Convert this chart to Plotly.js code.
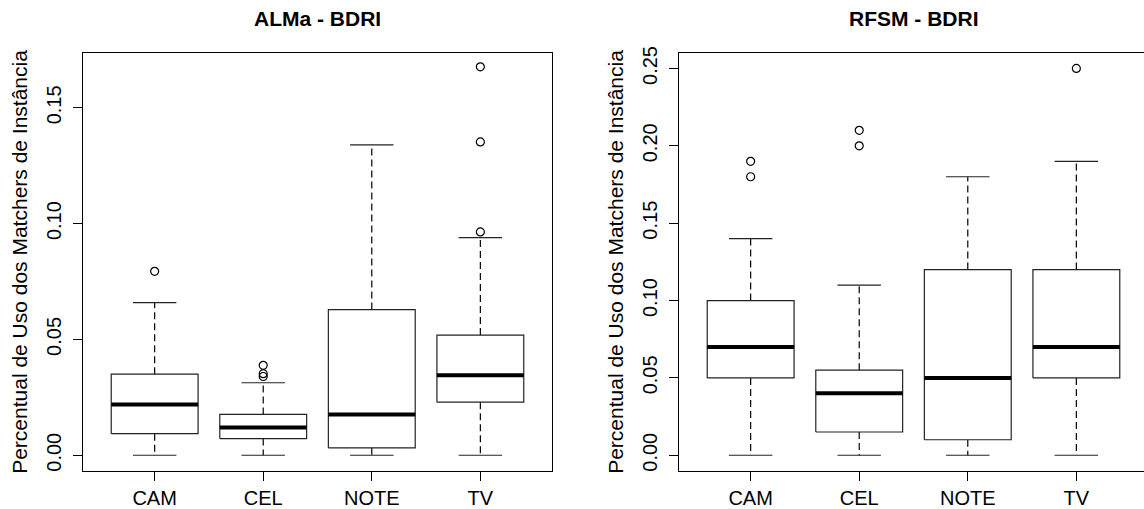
<!DOCTYPE html>
<html>
<head>
<meta charset="utf-8">
<script src="https://cdn.plot.ly/plotly-3.0.1.min.js"></script>
<style>
html,body{margin:0;padding:0;overflow:hidden;background:#fff;}
#chart{width:1150px;height:509px;}
</style>
</head>
<body>
<div id="chart"></div>
<script>
// ---- data ----
const categories = ['CAM', 'CEL', 'NOTE', 'TV'];

const almaTitle = 'ALMa - BDRI';
const almaLower  = [0, 0, 0, 0];
const almaQ1     = [0.0093, 0.0072, 0.0032, 0.0229];
const almaMedian = [0.0219, 0.0120, 0.0176, 0.0345];
const almaQ3     = [0.0350, 0.0176, 0.0629, 0.0519];
const almaUpper  = [0.0659, 0.0313, 0.1340, 0.0940];
const almaOutCat = ['CAM', 'CEL', 'CEL', 'CEL', 'TV', 'TV', 'TV'];
const almaOutVal = [0.0794, 0.0340, 0.0352, 0.0388, 0.0964, 0.1353, 0.1677];
const almaTicks  = [0, 0.05, 0.10, 0.15];

const rfsmTitle = 'RFSM - BDRI';
const rfsmLower  = [0, 0, 0, 0];
const rfsmQ1     = [0.050, 0.015, 0.010, 0.050];
const rfsmMedian = [0.070, 0.040, 0.050, 0.070];
const rfsmQ3     = [0.100, 0.055, 0.120, 0.120];
const rfsmUpper  = [0.140, 0.110, 0.180, 0.190];
const rfsmOutCat = ['CAM', 'CAM', 'CEL', 'CEL', 'TV'];
const rfsmOutVal = [0.18, 0.19, 0.20, 0.21, 0.25];
const rfsmTicks  = [0, 0.05, 0.10, 0.15, 0.20, 0.25];

const yTitle = 'Percentual de Uso dos Matchers de Instância';

// ---- build traces ----
const FONT = 'Liberation Sans, Arial, sans-serif';
const HALF_BOX = 0.4, HALF_CAP = 0.2;

function panelTraces(xa, ya, lower, q1, med, q3, upper, outCat, outVal) {
  const boxX = [], boxY = [], medX = [], medY = [], whX = [], whY = [], capX = [], capY = [];
  categories.forEach((c, i) => {
    const p = i + 1;
    boxX.push(p - HALF_BOX, p + HALF_BOX, p + HALF_BOX, p - HALF_BOX, p - HALF_BOX, null);
    boxY.push(q1[i], q1[i], q3[i], q3[i], q1[i], null);
    medX.push(p - HALF_BOX, p + HALF_BOX, null);
    medY.push(med[i], med[i], null);
    whX.push(p, p, null, p, p, null);
    whY.push(q3[i], upper[i], null, q1[i], lower[i], null);
    capX.push(p - HALF_CAP, p + HALF_CAP, null, p - HALF_CAP, p + HALF_CAP, null);
    capY.push(upper[i], upper[i], null, lower[i], lower[i], null);
  });
  const base = {type: 'scatter', mode: 'lines', xaxis: xa, yaxis: ya, hoverinfo: 'skip'};
  return [
    Object.assign({}, base, {x: whX, y: whY, line: {color: '#000', width: 1.2, dash: '7px,4px'}}),
    Object.assign({}, base, {x: capX, y: capY, line: {color: '#222', width: 1.2}}),
    Object.assign({}, base, {x: boxX, y: boxY, line: {color: '#222', width: 1.2}}),
    Object.assign({}, base, {x: medX, y: medY, line: {color: '#000', width: 4}}),
    {type: 'scatter', mode: 'markers', xaxis: xa, yaxis: ya, hoverinfo: 'skip',
     x: outCat.map(c => categories.indexOf(c) + 1), y: outVal,
     marker: {symbol: 'circle-open', size: 8, color: '#000', line: {width: 1.2, color: '#000'}}}
  ];
}

const traces = [].concat(
  panelTraces('x', 'y', almaLower, almaQ1, almaMedian, almaQ3, almaUpper, almaOutCat, almaOutVal),
  panelTraces('x2', 'y2', rfsmLower, rfsmQ1, rfsmMedian, rfsmQ3, rfsmUpper, rfsmOutCat, rfsmOutVal)
);

// ---- layout ----
const W = 1150, H = 509;
function xAxis(domain) {
  return {
    domain: domain, range: [0.34, 4.66],
    tickmode: 'array', tickvals: categories.map((c, i) => i + 1), ticktext: categories,
    ticks: 'outside', ticklen: 9, tickcolor: '#000', tickwidth: 1,
    showline: true, mirror: true, linecolor: '#000', linewidth: 1,
    showgrid: false, zeroline: false,
    tickfont: {family: FONT, size: 20, color: '#000'}
  };
}
function yAxis(domain, range, ticks, anchor) {
  return {
    domain: domain, range: range, anchor: anchor,
    tickmode: 'array', tickvals: ticks, ticktext: ticks.map(v => v.toFixed(2)),
    tickangle: -90, ticklabelstandoff: 4,
    ticks: 'outside', ticklen: 9, tickcolor: '#000', tickwidth: 1,
    showline: true, mirror: true, linecolor: '#000', linewidth: 1,
    showgrid: false, zeroline: false,
    tickfont: {family: FONT, size: 20, color: '#000'}
  };
}
const yDom = [38.3 / H, 456 / H];
const leftDom = [83 / W, 552 / W];
const rightDom = [679 / W, 1148 / W];

const layout = {
  width: W, height: H,
  margin: {l: 0, r: 0, t: 0, b: 0},
  paper_bgcolor: '#fff', plot_bgcolor: '#fff',
  showlegend: false,
  xaxis: Object.assign(xAxis(leftDom), {anchor: 'y'}),
  yaxis: yAxis(yDom, [-0.00668, 0.17368], almaTicks, 'x'),
  xaxis2: Object.assign(xAxis(rightDom), {anchor: 'y2'}),
  yaxis2: yAxis(yDom, [-0.01, 0.26], rfsmTicks, 'x2'),
  annotations: [
    {text: '<b>' + almaTitle + '</b>', xref: 'paper', yref: 'paper',
     x: (leftDom[0] + leftDom[1]) / 2, y: 1 - 19 / H, xanchor: 'center', yanchor: 'middle',
     showarrow: false, font: {family: FONT, size: 21, color: '#000'}},
    {text: '<b>' + rfsmTitle + '</b>', xref: 'paper', yref: 'paper',
     x: (rightDom[0] + rightDom[1]) / 2, y: 1 - 19 / H, xanchor: 'center', yanchor: 'middle',
     showarrow: false, font: {family: FONT, size: 21, color: '#000'}},
    {text: yTitle, xref: 'paper', yref: 'paper', textangle: -90,
     x: 20 / W, y: (yDom[0] + yDom[1]) / 2, xanchor: 'center', yanchor: 'middle',
     showarrow: false, font: {family: FONT, size: 21, color: '#000'}},
    {text: yTitle, xref: 'paper', yref: 'paper', textangle: -90,
     x: 616 / W, y: (yDom[0] + yDom[1]) / 2, xanchor: 'center', yanchor: 'middle',
     showarrow: false, font: {family: FONT, size: 21, color: '#000'}}
  ]
};

Plotly.newPlot('chart', traces, layout, {staticPlot: true, displayModeBar: false});
</script>
</body>
</html>
